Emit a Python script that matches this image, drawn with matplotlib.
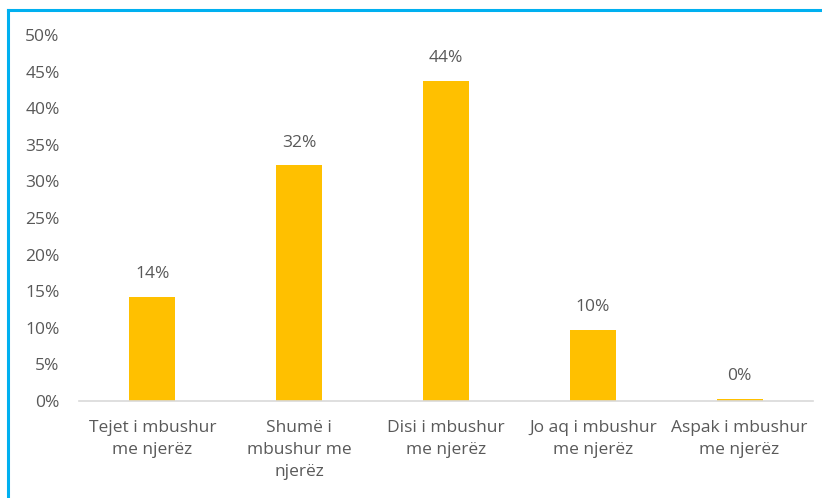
import matplotlib.pyplot as plt
from matplotlib.lines import Line2D

categories = ['Tejet i mbushur\nme njerëz', 'Shumë i\nmbushur me\nnjerëz', 'Disi i mbushur\nme njerëz',
              'Jo aq i mbushur\nme njerëz', 'Aspak i mbushur\nme njerëz']
values = [14.2, 32.2, 43.7, 9.7, 0.3]
labels = ['14%', '32%', '44%', '10%', '0%']
yticks = [0, 5, 10, 15, 20, 25, 30, 35, 40, 45, 50]

plt.rcParams['font.family'] = ['Open Sans', 'DejaVu Sans']
gray = '#595959'

fig = plt.figure(figsize=(8.22, 4.98), dpi=100)
ax = fig.add_axes([79 / 822, 1 - 401 / 498, 734 / 822, 366 / 498])

x = range(len(categories))
ax.bar(x, values, width=0.313, color='#FFC000', zorder=2)
for i, v in enumerate(values):
    ax.text(i, v + 2.0, labels[i], ha='center', va='bottom', fontsize=12.5, color=gray)

ax.set_xlim(-0.5, len(categories) - 0.5)
ax.set_ylim(0, 50)
ax.set_yticks(yticks)
ax.set_yticklabels([f'{t}%' for t in yticks])
ax.set_xticks(list(x))
ax.set_xticklabels(categories, linespacing=1.5)
ax.tick_params(axis='both', length=0, colors=gray, labelsize=12.5)
ax.tick_params(axis='y', pad=14)
ax.tick_params(axis='x', pad=14)
for s in ['top', 'right', 'left']:
    ax.spines[s].set_visible(False)
ax.spines['bottom'].set_color('#D9D9D9')
ax.spines['bottom'].set_linewidth(1.2)

# blue frame (only top and left edges are inside the picture)
top = 1 - 10 / 498
left = 8 / 822
fig.add_artist(Line2D([left, 1.1], [top, top], transform=fig.transFigure, color='#00B0F0', lw=2.2))
fig.add_artist(Line2D([left, left], [-0.1, top], transform=fig.transFigure, color='#00B0F0', lw=2.2))

fig.savefig('out.png', dpi=100)
